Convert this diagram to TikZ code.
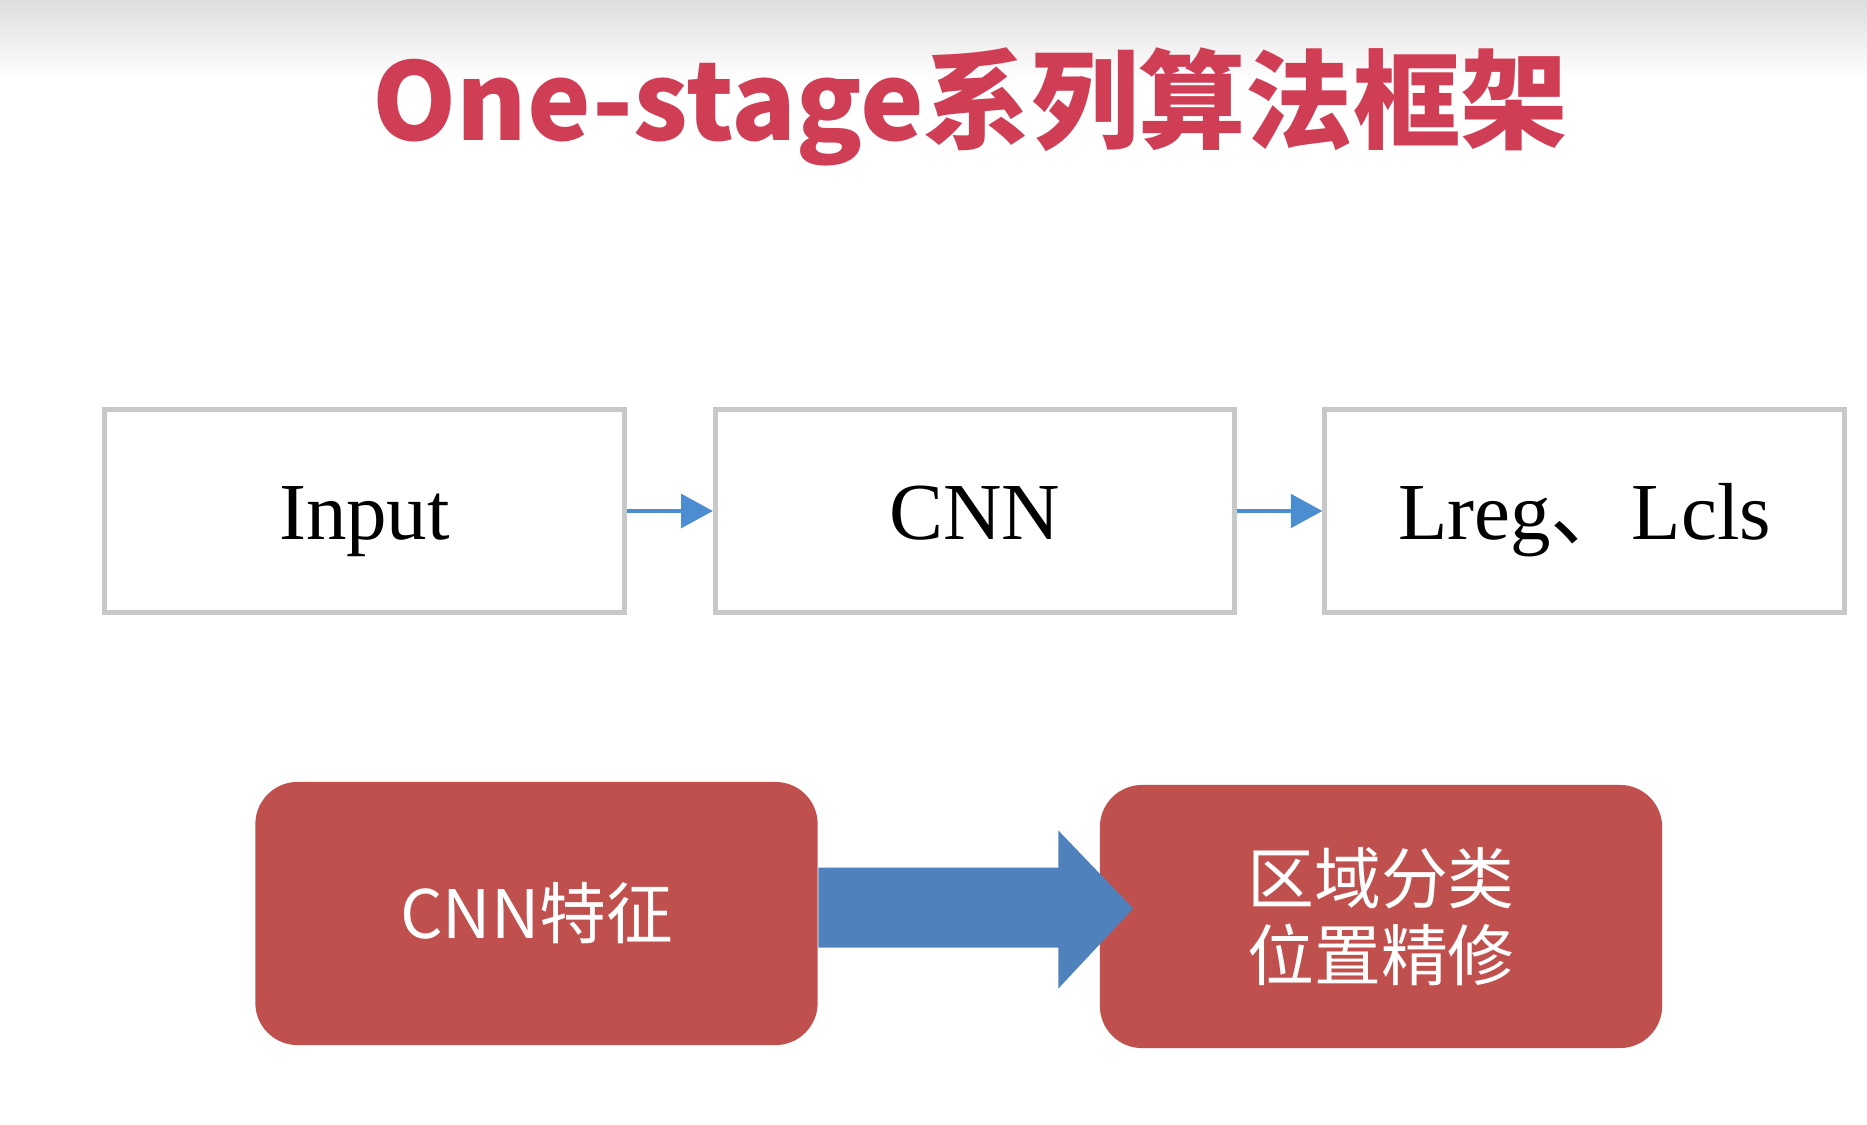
\documentclass[tikz,border=0pt]{standalone}
\usepackage{fontspec}
\setmainfont{Liberation Serif}
\newfontfamily\cjk{Noto Sans CJK SC}
\usetikzlibrary{arrows.meta,calc}
\definecolor{titlered}{RGB}{208,62,86}
\definecolor{boxred}{RGB}{192,80,77}
\definecolor{arrowblue}{RGB}{79,129,189}
\definecolor{linkblue}{RGB}{76,140,208}
\definecolor{frame}{RGB}{200,200,200}
\begin{document}
\begin{tikzpicture}[x=0.01cm,y=-0.01cm,
  flowbox/.style={draw=frame,line width=1.4pt,fill=white,minimum width=5.19cm,
    minimum height=2.02cm,inner sep=0pt,text height=20pt,text depth=4pt,
    font=\fontsize{23}{27}\selectfont},
  link/.style={draw=linkblue,line width=1.2pt,-{Triangle[length=9pt,width=9.5pt]}},
  redbox/.style={fill=boxred,rounded corners=12pt,minimum width=5.62cm,
    minimum height=2.63cm,inner sep=0pt,text=white,
    font=\cjk\fontsize{19}{22}\selectfont,align=center},
  bigarrow/.style={fill=arrowblue}]
\useasboundingbox (0,0) rectangle (1867,1124);
% faint grey band across the top edge
\shade[top color=black!13,bottom color=white] (0,0) rectangle (1867,80);

% title
\node[anchor=base,text=titlered,font=\cjk\bfseries\fontsize{30.5}{36}\selectfont,inner sep=0pt]
  (title) at (970,140) {One-stage系列算法框架};

% pipeline
\node[flowbox] (input) at (364.5,511) {Input};
\node[flowbox] (cnn)   at (975,511)   {CNN};
\node[flowbox] (loss)  at (1584.5,511) {Lreg{\cjk 、}Lcls};
\draw[link] (input.east) -- (cnn.west);
\draw[link] (cnn.east) -- (loss.west);

% summary blocks
\node[redbox] (feat)   at (536.5,913.5) {CNN特征};
\node[redbox] (refine) at (1381,916.5)  {区域分类\\位置精修};
\fill[bigarrow] ($(feat.east)+(0,-46)$) -- ($(feat.east)+(240,-46)$)
  -- ($(feat.east)+(240,-83)$) -- ($(refine.west)+(34,-8)$)
  -- ($(feat.east)+(240,75)$) -- ($(feat.east)+(240,34)$)
  -- ($(feat.east)+(0,34)$) -- cycle;
\end{tikzpicture}
\end{document}
